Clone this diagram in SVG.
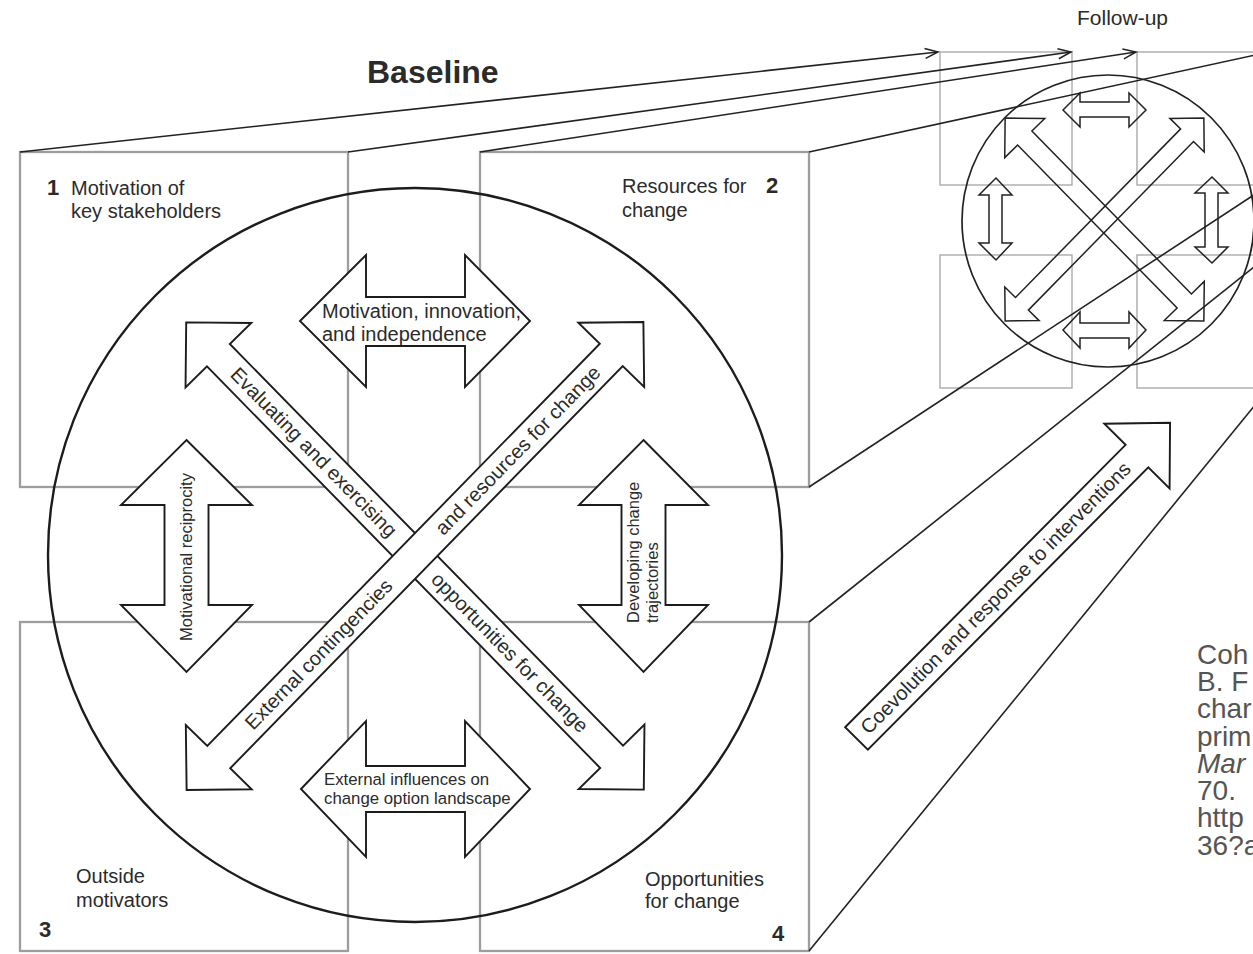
<svg xmlns="http://www.w3.org/2000/svg" width="1253" height="954" viewBox="0 0 1253 954">
<style>
.box{fill:none;stroke:#9d9d9d;stroke-width:2.3}
.fbox{fill:none;stroke:#ababab;stroke-width:1.4}
.ring{fill:none;stroke:#1c1c1c;stroke-width:2.4}
.arr{fill:#fff;stroke:#1c1c1c;stroke-width:1.9;stroke-linejoin:miter}
.farr{fill:none;stroke:#222;stroke-width:1.5;stroke-linejoin:miter}
.conn{fill:none;stroke:#222;stroke-width:1.6}
.lbl{font-family:"Liberation Sans",Arial,sans-serif;font-size:20px;fill:#2b2b2b}
.sm{font-size:16.5px}
.num{font-weight:bold;font-size:22px}
.cite{font-family:"Liberation Sans",Arial,sans-serif;font-size:28px;fill:#555}
</style>
<defs>
<marker id="ah" markerUnits="userSpaceOnUse" markerWidth="16" markerHeight="12" refX="14" refY="6" orient="auto">
<path d="M1,1 L14,6 L1,11" fill="none" stroke="#222" stroke-width="1.5"/>
</marker>
<polygon id="diag" points="-327,0 -281,-46 -281,-16 281,-16 281,-46 327,0 281,46 281,16 -281,16 -281,46"/>
</defs>
<rect width="1253" height="954" fill="#fff"/>

<text class="lbl" x="367" y="83" style="font-size:32px;font-weight:bold">Baseline</text>
<text class="lbl" x="1077" y="25" style="font-size:21px">Follow-up</text>

<g id="box1">
<rect class="box" x="20" y="152" width="328" height="335"/>
<text class="lbl num" x="47" y="195">1</text>
<text class="lbl" x="71" y="195">Motivation of</text>
<text class="lbl" x="71" y="218">key stakeholders</text>
</g>
<g id="box2">
<rect class="box" x="480" y="152" width="329" height="335"/>
<text class="lbl" x="622" y="193">Resources for</text>
<text class="lbl" x="622" y="217">change</text>
<text class="lbl num" x="766" y="193">2</text>
</g>
<g id="box3">
<rect class="box" x="20" y="622" width="328" height="329"/>
<text class="lbl" x="76" y="883">Outside</text>
<text class="lbl" x="76" y="907">motivators</text>
<text class="lbl num" x="39" y="937">3</text>
</g>
<g id="box4">
<rect class="box" x="480" y="622" width="329" height="329"/>
<text class="lbl" x="645" y="886">Opportunities</text>
<text class="lbl" x="645" y="908">for change</text>
<text class="lbl num" x="772" y="941">4</text>
</g>

<g id="baseline-circle">
<circle class="ring" cx="415" cy="555" r="367"/>
</g>

<g id="followup">
<rect class="fbox" x="940" y="52" width="132" height="133"/>
<rect class="fbox" x="1137" y="52" width="132" height="133"/>
<rect class="fbox" x="940" y="255" width="132" height="133"/>
<rect class="fbox" x="1137" y="255" width="132" height="133"/>
<circle class="farr" cx="1108" cy="221" r="146" style="stroke-width:1.7"/>
<polygon class="farr" points="1063,110 1080,93 1080,102 1129,102 1129,93 1146,110 1129,127 1129,117 1080,117 1080,127"/>
<polygon class="farr" points="1063,330 1080,312 1080,323 1129,323 1129,312 1146,330 1129,348 1129,338 1080,338 1080,348"/>
<polygon class="farr" points="996,178 1012,195 1002,195 1002,243 1012,243 996,260 979,243 989,243 989,195 979,195"/>
<polygon class="farr" points="1212,177 1228,193 1218,193 1218,247 1228,247 1212,263 1195,247 1205,247 1205,193 1195,193"/>
<polygon class="farr" transform="translate(1104.5,219.5) rotate(45.6)" points="-142,0 -114,-28 -114,-10 114,-10 114,-28 142,0 114,28 114,10 -114,10 -114,28"/>
<polygon class="farr" transform="translate(1104.5,219.5) rotate(-45.6)" points="-142,0 -118,-24 -118,-9 118,-9 118,-24 142,0 118,24 118,9 -118,9 -118,24"/>
</g>

<g id="connectors">
<line class="conn" x1="20" y1="152" x2="938" y2="52" marker-end="url(#ah)"/>
<line class="conn" x1="348" y1="152" x2="1071" y2="52" marker-end="url(#ah)"/>
<line class="conn" x1="480" y1="152" x2="1136" y2="52" marker-end="url(#ah)"/>
<line class="conn" x1="809" y1="152" x2="1269" y2="52"/>
<line class="conn" x1="809" y1="487" x2="1269" y2="185"/>
<line class="conn" x1="809" y1="622" x2="1269" y2="255"/>
<line class="conn" x1="809" y1="951" x2="1269" y2="388"/>
</g>

<g id="arrow-nwse">
<g transform="translate(415,556) rotate(45.6)">
<use href="#diag" class="arr"/>
<text class="lbl" x="-31" y="6.5" text-anchor="end">Evaluating and exercising</text>
<text class="lbl" x="28" y="6.5">opportunities for change</text>
</g>
</g>
<g id="arrow-nesw">
<g transform="translate(415,556) rotate(-45.7)">
<use href="#diag" class="arr"/>
<text class="lbl" x="34" y="6.5">and resources for change</text>
<text class="lbl" x="-37" y="6.5" text-anchor="end">External contingencies</text>
</g>
</g>

<g id="arrow-top">
<polygon class="arr" points="300,321 366,255 366,297 465,297 465,255 530,321 465,387 465,346 366,346 366,387"/>
<text class="lbl" x="322" y="318">Motivation, innovation,</text>
<text class="lbl" x="322" y="341">and independence</text>
</g>
<g id="arrow-bottom">
<polygon class="arr" points="301,789 366,721 366,766 465,766 465,721 530,789 465,857 465,812 366,812 366,857"/>
<text class="lbl" x="324" y="785" style="font-size:16.8px">External influences on</text>
<text class="lbl" x="324" y="804" style="font-size:16.8px">change option landscape</text>
</g>
<g id="arrow-left">
<polygon class="arr" points="186.5,440 252,505 208.5,505 208.5,605 252,605 186.5,672 121,605 164.5,605 164.5,505 121,505"/>
<text class="lbl sm" transform="translate(192,557) rotate(-90)" text-anchor="middle">Motivational reciprocity</text>
</g>
<g id="arrow-right">
<polygon class="arr" points="643.5,440 708,505 665.5,505 665.5,605 708,605 643.5,672 579,605 621.5,605 621.5,505 579,505"/>
<text class="lbl sm" transform="translate(639,623) rotate(-90)">Developing change</text>
<text class="lbl sm" transform="translate(657.5,623) rotate(-90)">trajectories</text>
</g>

<g id="arrow-coevolution">
<g transform="translate(856.5,738.5) rotate(-45.2)">
<polygon class="arr" points="0,-16 398,-16 398,-46 445,0 398,46 398,16 0,16"/>
<text class="lbl" x="11" y="6.5">Coevolution and response to interventions</text>
</g>
</g>

<g id="citation">
<text class="cite" x="1197" y="664">Coh</text>
<text class="cite" x="1197" y="691">B. F</text>
<text class="cite" x="1197" y="718">char</text>
<text class="cite" x="1197" y="746">prim</text>
<text class="cite" x="1197" y="773" font-style="italic">Mar</text>
<text class="cite" x="1197" y="800">70.</text>
<text class="cite" x="1197" y="827">http</text>
<text class="cite" x="1197" y="855">36?a</text>
</g>
</svg>
